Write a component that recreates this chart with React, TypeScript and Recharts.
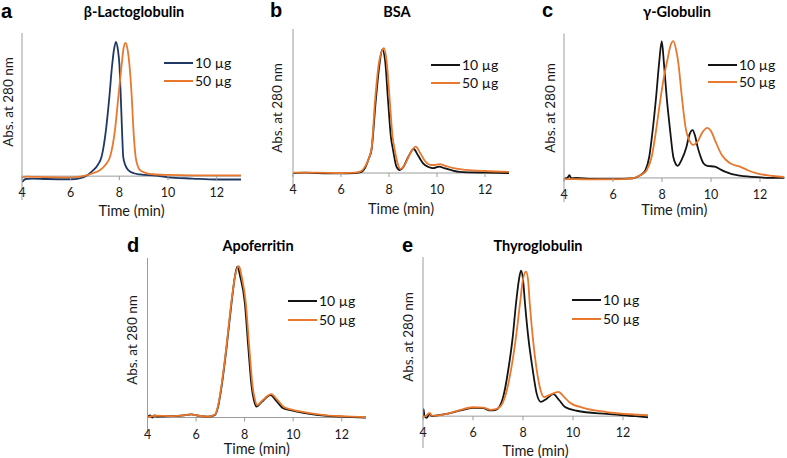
import React from 'react';
import { LineChart, Line, XAxis, YAxis, ReferenceLine, Legend } from 'recharts';

const seriesNames = ['10 µg', '50 µg'];
const xTicks = [4, 6, 8, 10, 12];
const xDomain = [4, 13];
const panelLetters = ['a', 'b', 'c', 'd', 'e'];
const panelTitles = ['β-Lactoglobulin', 'BSA', 'γ-Globulin', 'Apoferritin', 'Thyroglobulin'];
const yAxisTitle = 'Abs. at 280 nm';
const xAxisTitle = 'Time (min)';

// a: β-Lactoglobulin
const aTime10 = [4.0, 4.15, 4.4, 5.0, 6.0, 6.4, 6.7, 6.93, 7.1, 7.27, 7.45, 7.59, 7.69, 7.78, 7.86, 7.94, 8.0, 8.06, 8.11, 8.16, 8.25, 8.37, 8.6, 8.85, 9.5, 10, 11, 12, 13];
const aAbs10 = [-0.25, -0.12, -0.1, -0.12, -0.13, -0.08, 0.05, 0.25, 0.45, 0.81, 1.93, 3.32, 4.5, 5.3, 5.63, 5.3, 4.72, 3.32, 1.93, 0.81, 0.45, 0.25, 0.12, 0.07, 0.02, -0.05, -0.1, -0.14, -0.14];
const aTime50 = [4.0, 4.2, 5.0, 6.0, 6.4, 6.6, 6.9, 7.2, 7.45, 7.62, 7.82, 7.96, 8.1, 8.18, 8.26, 8.34, 8.41, 8.51, 8.58, 8.67, 8.75, 8.85, 9.1, 9.38, 10, 11, 12, 13];
const aAbs50 = [-0.05, -0.02, -0.04, -0.05, -0.02, 0.02, 0.12, 0.25, 0.5, 0.81, 1.93, 3.32, 4.72, 5.4, 5.59, 5.3, 4.72, 3.32, 1.93, 0.81, 0.45, 0.25, 0.13, 0.08, 0.05, 0.03, 0.03, 0.03];
const aYTicks = [-1, 0, 1, 2, 3, 4, 5, 6];

// b: BSA
const bTime10 = [4, 4.5, 5, 6, 6.6, 6.85, 7.03, 7.15, 7.27, 7.45, 7.6, 7.72, 7.84, 7.96, 8.08, 8.17, 8.31, 8.45, 8.6, 8.8, 9.03, 9.2, 9.42, 9.65, 9.83, 10.1, 10.3, 10.6, 10.94, 12, 13];
const bAbs10 = [0, 0.01, 0, -0.01, 0, 0.03, 0.16, 0.35, 0.575, 1.82, 2.7, 3.09, 2.8, 1.82, 0.9, 0.575, 0.16, 0.075, 0.15, 0.4, 0.6, 0.45, 0.24, 0.15, 0.12, 0.16, 0.12, 0.07, 0.03, 0.01, 0];
const bTime50 = [4, 5, 6, 6.6, 6.85, 7.0, 7.27, 7.42, 7.58, 7.79, 7.9, 8.03, 8.15, 8.24, 8.38, 8.47, 8.65, 8.85, 9.11, 9.3, 9.5, 9.75, 9.9, 10.1, 10.35, 10.7, 11.2, 12, 13];
const bAbs50 = [0.01, 0.01, 0, 0.01, 0.05, 0.16, 0.6, 1.82, 2.75, 3.12, 2.8, 1.82, 0.9, 0.575, 0.2, 0.1, 0.2, 0.45, 0.66, 0.5, 0.3, 0.2, 0.2, 0.22, 0.18, 0.12, 0.08, 0.05, 0.03];
const bYTicks = [-0.4, 0.6, 1.6, 2.6, 3.6];

// c: γ-Globulin
const cTime10 = [4, 4.15, 4.22, 4.3, 4.5, 5, 6, 6.8, 7.0, 7.2, 7.33, 7.48, 7.62, 7.76, 7.88, 7.99, 8.08, 8.19, 8.33, 8.46, 8.55, 8.64, 8.8, 9.0, 9.12, 9.25, 9.35, 9.45, 9.57, 9.69, 9.85, 10.16, 10.35, 10.57, 10.85, 11.18, 11.87, 12.5, 13];
const cAbs10 = [-0.04, 0.02, 0.12, -0.02, 0, -0.04, -0.05, -0.02, 0.05, 0.18, 0.33, 0.88, 1.99, 3.37, 4.75, 5.68, 4.75, 3.37, 1.99, 0.88, 0.6, 0.5, 0.75, 1.3, 1.8, 1.99, 1.75, 1.3, 0.9, 0.61, 0.5, 0.47, 0.37, 0.26, 0.16, 0.1, 0.03, 0, 0];
const cTime50 = [4, 4.5, 5, 6, 6.8, 7.05, 7.2, 7.38, 7.58, 7.76, 7.95, 8.08, 8.22, 8.35, 8.46, 8.57, 8.67, 8.81, 8.98, 9.1, 9.28, 9.45, 9.65, 9.86, 10.0, 10.16, 10.44, 10.78, 11.18, 11.5, 11.87, 12.54, 13];
const cAbs50 = [-0.05, -0.05, -0.06, -0.06, -0.02, 0.08, 0.15, 0.33, 0.88, 1.99, 3.37, 4.2, 4.9, 5.5, 5.68, 5.35, 4.75, 3.37, 1.99, 1.6, 1.37, 1.5, 1.9, 2.08, 1.95, 1.57, 0.95, 0.61, 0.47, 0.32, 0.19, 0.08, 0.03];
const cYTicks = [-1, 0, 1, 2, 3, 4, 5, 6];

// d: Apoferritin
const dTime10 = [4, 4.1, 4.2, 4.3, 4.4, 5, 5.5, 5.8, 6.1, 6.5, 6.78, 6.91, 7.05, 7.26, 7.46, 7.6, 7.7, 7.82, 8.01, 8.15, 8.29, 8.38, 8.49, 8.7, 9.07, 9.3, 9.59, 9.93, 10.55, 11.37, 12, 13];
const dAbs10 = [0, 0.05, 0, 0.05, 0.02, 0.03, 0.05, 0.07, 0.04, 0.02, 0.06, 0.25, 0.7, 1.61, 2.6, 3.2, 3.43, 3.2, 2.6, 1.61, 0.7, 0.4, 0.25, 0.35, 0.51, 0.38, 0.21, 0.16, 0.095, 0.04, 0.02, 0];
const dTime50 = [4, 4.1, 4.3, 5, 5.5, 5.8, 6.1, 6.5, 6.78, 6.9, 7.04, 7.25, 7.45, 7.62, 7.77, 7.88, 8.05, 8.19, 8.33, 8.42, 8.52, 8.72, 9.1, 9.35, 9.62, 9.95, 10.55, 11.37, 12, 13];
const dAbs50 = [0, 0.02, 0.04, 0.03, 0.05, 0.07, 0.04, 0.02, 0.07, 0.25, 0.7, 1.61, 2.6, 3.25, 3.44, 3.2, 2.6, 1.61, 0.7, 0.42, 0.28, 0.38, 0.53, 0.4, 0.24, 0.18, 0.11, 0.05, 0.03, 0.01];
const dYTicks = [-0.375, 0.625, 1.625, 2.625, 3.625];

// e: Thyroglobulin
const eTime10 = [4.0, 4.02, 4.06, 4.15, 4.27, 4.35, 4.5, 5.0, 5.5, 6.0, 6.4, 6.7, 6.88, 7.05, 7.21, 7.41, 7.59, 7.72, 7.84, 7.92, 8.0, 8.08, 8.21, 8.39, 8.55, 8.71, 8.95, 9.21, 9.45, 9.68, 10.15, 11.35, 12.5, 13];
const eAbs10 = [0, 0.22, 0, -0.05, 0.08, 0, 0.02, 0.08, 0.18, 0.26, 0.25, 0.18, 0.19, 0.29, 0.61, 1.45, 2.49, 3.54, 4.3, 4.57, 4.3, 3.54, 2.49, 1.45, 0.7, 0.45, 0.55, 0.69, 0.5, 0.29, 0.17, 0.07, 0, -0.04];
const eTime50 = [4.0, 4.1, 4.27, 4.35, 4.5, 5.0, 5.5, 6.0, 6.4, 6.7, 6.9, 7.08, 7.28, 7.52, 7.72, 7.88, 8.0, 8.12, 8.2, 8.27, 8.39, 8.55, 8.71, 8.84, 9.1, 9.41, 9.65, 9.88, 10.41, 11.35, 12.3, 13];
const eAbs50 = [-0.02, 0, 0.1, 0.02, 0.02, 0.08, 0.2, 0.28, 0.27, 0.2, 0.22, 0.29, 0.61, 1.45, 2.49, 3.54, 4.3, 4.54, 4.3, 3.54, 2.49, 1.45, 0.8, 0.6, 0.68, 0.76, 0.6, 0.42, 0.26, 0.13, 0.06, 0.03];
const eYTicks = [-1, 0, 1, 2, 3, 4, 5];

const zip = (t: number[], v: number[]) => t.map((x, i) => ({ t: x, v: v[i] }));

const AXIS = '#9b9b9b';
const BLACK = '#141414';
const ORANGE = '#E8782D';
const NAVY = '#1F3864';
const FONT = 'Lato, "Open Sans", sans-serif';

type Panel = {
  left: number; top: number; width: number; height: number;
  margin: { top: number; right: number; bottom: number; left: number };
  yTicks: number[];
  s10: { t: number; v: number }[];
  s50: { t: number; v: number }[];
  c10: string;
  legend: { x: number; y: number; gap: number };
  title: { x: number; y: number };
  letter: { x: number; y: number };
  yLabel: { x: number; y: number };
  xLabelDy: number;
};

const X_AXIS_H = 10;
const Y_AXIS_W = 10;

const panels: Panel[] = [
  {
    left: 0, top: 0, width: 262, height: 220,
    margin: { top: 33, right: 21, bottom: 10, left: 12 },
    yTicks: aYTicks, s10: zip(aTime10, aAbs10), s50: zip(aTime50, aAbs50), c10: NAVY,
    legend: { x: 164, y: 63, gap: 18 }, title: { x: 134, y: 17 }, letter: { x: 1, y: 18 }, yLabel: { x: 8, y: 102 }, xLabelDy: 34,
  },
  {
    left: 262, top: 0, width: 262, height: 220,
    margin: { top: 29, right: 15, bottom: 21, left: 21 },
    yTicks: bYTicks, s10: zip(bTime10, bAbs10), s50: zip(bTime50, bAbs50), c10: BLACK,
    legend: { x: 431, y: 65, gap: 18 }, title: { x: 397, y: 17 }, letter: { x: 270, y: 17 }, yLabel: { x: 277, y: 108 }, xLabelDy: 35,
  },
  {
    left: 524, top: 0, width: 263, height: 220,
    margin: { top: 33.5, right: 2.5, bottom: 8, left: 30 },
    yTicks: cYTicks, s10: zip(cTime10, cAbs10), s50: zip(cTime50, cAbs50), c10: BLACK,
    legend: { x: 708, y: 65, gap: 17 }, title: { x: 677, y: 17 }, letter: { x: 542, y: 17 }, yLabel: { x: 550, y: 108 }, xLabelDy: 32,
  },
  {
    left: 120, top: 220, width: 270, height: 238,
    margin: { top: 38, right: 24, bottom: 14, left: 17.5 },
    yTicks: dYTicks, s10: zip(dTime10, dAbs10), s50: zip(dTime50, dAbs50), c10: BLACK,
    legend: { x: 288, y: 301, gap: 19 }, title: { x: 258, y: 251 }, letter: { x: 127, y: 252 }, yLabel: { x: 132, y: 340 }, xLabelDy: 31,
  },
  {
    left: 390, top: 220, width: 270, height: 238,
    margin: { top: 37, right: 12, bottom: 0, left: 23 },
    yTicks: eYTicks, s10: zip(eTime10, eAbs10), s50: zip(eTime50, eAbs50), c10: BLACK,
    legend: { x: 572, y: 300, gap: 19 }, title: { x: 538, y: 251 }, letter: { x: 402, y: 252 }, yLabel: { x: 408, y: 337 }, xLabelDy: 34,
  },
];

const makeXTick = (offset: number) => (props: any) => {
  const { x, y, payload } = props;
  const y0 = y - offset;
  return (
    <g>
      <line x1={x} x2={x} y1={y0} y2={y0 + 4} stroke={AXIS} strokeWidth={1} />
      <text x={x} y={y0 + 21} textAnchor="middle" fontSize={12.5} fontFamily={FONT} fill="#1a1a1a">
        {payload.value}
      </text>
    </g>
  );
};

const makeLegend = (gap: number) => (props: any) => {
  const payload = props.payload || [];
  return (
    <svg width={80} height={9 + gap + 10} style={{ overflow: 'visible', display: 'block' }}>
      {payload.map((p: any, i: number) => (
        <g key={i}>
          <line x1={0} x2={29} y1={9 + i * gap} y2={9 + i * gap} stroke={p.color} strokeWidth={2} />
          <text x={31} y={9 + i * gap + 5} fontSize={14} fontFamily={FONT} fill="#111">
            {p.value}
          </text>
        </g>
      ))}
    </svg>
  );
};

function PanelChart({ p }: { p: Panel }) {
  const yMin = p.yTicks[0];
  const yMax = p.yTicks[p.yTicks.length - 1];
  const plotH = p.height - p.margin.top - p.margin.bottom - X_AXIS_H;
  const zeroOffset = (plotH * (0 - yMin)) / (yMax - yMin);
  return (
    <div style={{ position: 'absolute', left: p.left, top: p.top }}>
      <LineChart width={p.width} height={p.height} margin={p.margin}>
        <XAxis
          type="number"
          dataKey="t"
          domain={xDomain}
          ticks={xTicks}
          allowDataOverflow
          axisLine={false}
          tickLine={false}
          tickSize={0}
          tickMargin={0}
          height={X_AXIS_H}
          interval={0}
          tick={makeXTick(zeroOffset)}
        />
        <YAxis
          type="number"
          domain={[yMin, yMax]}
          ticks={p.yTicks}
          allowDataOverflow
          width={Y_AXIS_W}
          tick={false}
          tickSize={4}
          axisLine={{ stroke: AXIS }}
          tickLine={{ stroke: AXIS }}
        />
        <ReferenceLine y={0} stroke={AXIS} strokeWidth={1} />
        <Legend
          layout="vertical"
          align="center"
          verticalAlign="middle"
          content={makeLegend(p.legend.gap)}
          wrapperStyle={{ left: p.legend.x - p.left, top: p.legend.y - p.top - 9, width: 80, height: 40 }}
        />
        <Line
          data={p.s10}
          dataKey="v"
          name={seriesNames[0]}
          type="monotone"
          stroke={p.c10}
          strokeWidth={1.8}
          dot={false}
          isAnimationActive={false}
        />
        <Line
          data={p.s50}
          dataKey="v"
          name={seriesNames[1]}
          type="monotone"
          stroke={ORANGE}
          strokeWidth={1.8}
          dot={false}
          isAnimationActive={false}
        />
      </LineChart>
    </div>
  );
}

export default function App() {
  return (
    <div style={{ position: 'absolute', left: 0, top: 0, width: 787, height: 458, background: '#fff', overflow: 'hidden' }}>
      {panels.map((p, i) => (
        <PanelChart key={i} p={p} />
      ))}
      <svg width={787} height={458} style={{ position: 'absolute', left: 0, top: 0, pointerEvents: 'none' }}>
        {panels.map((p, i) => {
          const plotL = p.left + p.margin.left + Y_AXIS_W;
          const plotR = p.left + p.width - p.margin.right;
          const yMin = p.yTicks[0];
          const yMax = p.yTicks[p.yTicks.length - 1];
          const plotT = p.top + p.margin.top;
          const plotB = p.top + p.height - p.margin.bottom - X_AXIS_H;
          const zeroY = plotB - ((plotB - plotT) * (0 - yMin)) / (yMax - yMin);
          return (
            <g key={i}>
              <text x={p.letter.x} y={p.letter.y} fontSize={20} fontWeight="bold" fontFamily='"Liberation Sans", Arial, sans-serif' fill="#000">
                {panelLetters[i]}
              </text>
              <text x={p.title.x} y={p.title.y} textAnchor="middle" fontSize={14.5} fontWeight="bold" fontFamily={FONT} fill="#000">
                {panelTitles[i]}
              </text>
              <text
                transform={`translate(${p.yLabel.x},${p.yLabel.y}) rotate(-90)`}
                textAnchor="middle"
                dominantBaseline="central"
                fontSize={13.5}
                fontFamily={FONT}
                fill="#1a1a1a"
              >
                {yAxisTitle}
              </text>
              <text
                x={(plotL + plotR) / 2}
                y={zeroY + p.xLabelDy}
                textAnchor="middle"
                dominantBaseline="central"
                fontSize={14.5}
                fontFamily={FONT}
                fill="#1a1a1a"
              >
                {xAxisTitle}
              </text>
            </g>
          );
        })}
      </svg>
    </div>
  );
}
